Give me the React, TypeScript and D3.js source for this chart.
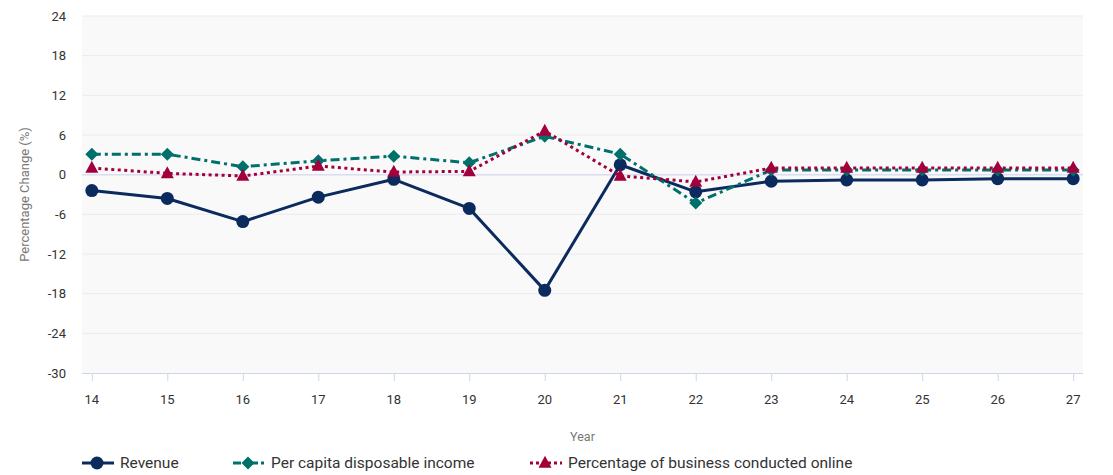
import React from "react";
import * as d3 from "d3";

const years = ["14","15","16","17","18","19","20","21","22","23","24","25","26","27"];
const revenue = [-2.4, -3.6, -7.1, -3.4, -0.7, -5.1, -17.5, 1.5, -2.6, -1.0, -0.8, -0.8, -0.6, -0.6];
const income = [3.1, 3.1, 1.2, 2.1, 2.8, 1.8, 5.8, 3.1, -4.3, 0.7, 0.7, 0.7, 0.7, 0.7];
const online = [1.0, 0.2, -0.2, 1.3, 0.4, 0.5, 6.6, -0.2, -1.1, 1.0, 1.0, 1.0, 1.0, 1.0];
const yTicks = [24, 18, 12, 6, 0, -6, -12, -18, -24, -30];

const W = 1113, H = 475;
const plotL = 82, plotR = 1083, plotT = 16, plotB = 373;
const FONT = "Roboto, 'Open Sans', sans-serif";

const series = [
  { name: "Revenue", values: revenue, color: "#0b2a5e", dash: "none", marker: "circle" },
  { name: "Per capita disposable income", values: income, color: "#00706a", dash: "9,4,3,4", marker: "diamond" },
  { name: "Percentage of business conducted online", values: online, color: "#a2003d", dash: "3,3.5", marker: "triangle" },
];

function Marker({ type, x, y, color }: { type: string; x: number; y: number; color: string }) {
  if (type === "circle") return <circle cx={x} cy={y} r={6.5} fill={color} />;
  if (type === "diamond") {
    const s = 6.5;
    return <path d={`M${x},${y - s}L${x + s},${y}L${x},${y + s}L${x - s},${y}Z`} fill={color} />;
  }
  const hw = 6.5, h = 12;
  return <path d={`M${x},${y - h * 0.6}L${x + hw},${y + h * 0.4}L${x - hw},${y + h * 0.4}Z`} fill={color} />;
}

export default function App() {
  const x = d3.scalePoint<string>().domain(years).range([plotL, plotR]).padding(0.13);
  const y = d3.scaleLinear().domain([-30, 24]).range([plotB, plotT]);

  const legendItems = [
    { s: series[0], x: 82 },
    { s: series[1], x: 233 },
    { s: series[2], x: 530 },
  ];

  return (
    <svg width={W} height={H} style={{ position: "absolute", left: 0, top: 0, fontFamily: FONT }}>
      <rect x={0} y={0} width={W} height={H} fill="#ffffff" />
      <rect x={plotL} y={plotT} width={plotR - plotL} height={plotB - plotT} fill="#f9f9fa" />
      {yTicks.map((t) => (
        <g key={t}>
          {t !== -30 && (
            <line x1={plotL} x2={plotR} y1={y(t)} y2={y(t)} stroke={t === 0 ? "#dcdcef" : "#ebebee"} strokeWidth={t === 0 ? 1.5 : 1} />
          )}
          <text x={66} y={y(t)} dy="0.35em" textAnchor="end" fontSize={13} fill="#333">{t}</text>
        </g>
      ))}
      <line x1={plotL} x2={plotR} y1={plotB + 0.5} y2={plotB + 0.5} stroke="#ccd6eb" strokeWidth={1} />
      {years.map((yr) => (
        <g key={yr}>
          <line x1={x(yr)! + 0.5} x2={x(yr)! + 0.5} y1={plotB} y2={plotB + 8} stroke="#ccd6eb" />
          <text x={x(yr)!} y={404} textAnchor="middle" fontSize={13} fill="#333">{yr}</text>
        </g>
      ))}
      <text x={(plotL + plotR) / 2} y={441} textAnchor="middle" fontSize={12.5} fill="#777">Year</text>
      <text transform={`translate(29,${(plotT + plotB) / 2}) rotate(-90)`} textAnchor="middle" fontSize={13} fill="#777">Percentage Change (%)</text>

      {series.map((s) => {
        const line = d3.line<number>().x((_, i) => x(years[i])!).y((v) => y(v));
        return (
          <g key={s.name}>
            <path d={line(s.values) as string} fill="none" stroke={s.color} strokeWidth={3} strokeDasharray={s.dash} strokeLinejoin="round" />
            {s.values.map((v, i) => (
              <Marker key={i} type={s.marker} x={x(years[i])!} y={y(v)} color={s.color} />
            ))}
          </g>
        );
      })}

      {legendItems.map(({ s, x: lx }) => (
        <g key={s.name}>
          <line x1={lx} x2={lx + 32} y1={463} y2={463} stroke={s.color} strokeWidth={3} strokeDasharray={s.dash === "none" ? "none" : s.dash === "3,3.5" ? "3,3" : "8,3,3,3"} />
          <Marker type={s.marker} x={lx + 15} y={463} color={s.color} />
          <text x={lx + 38} y={463} dy="0.35em" fontSize={15.5} fill="#333">{s.name}</text>
        </g>
      ))}
    </svg>
  );
}
